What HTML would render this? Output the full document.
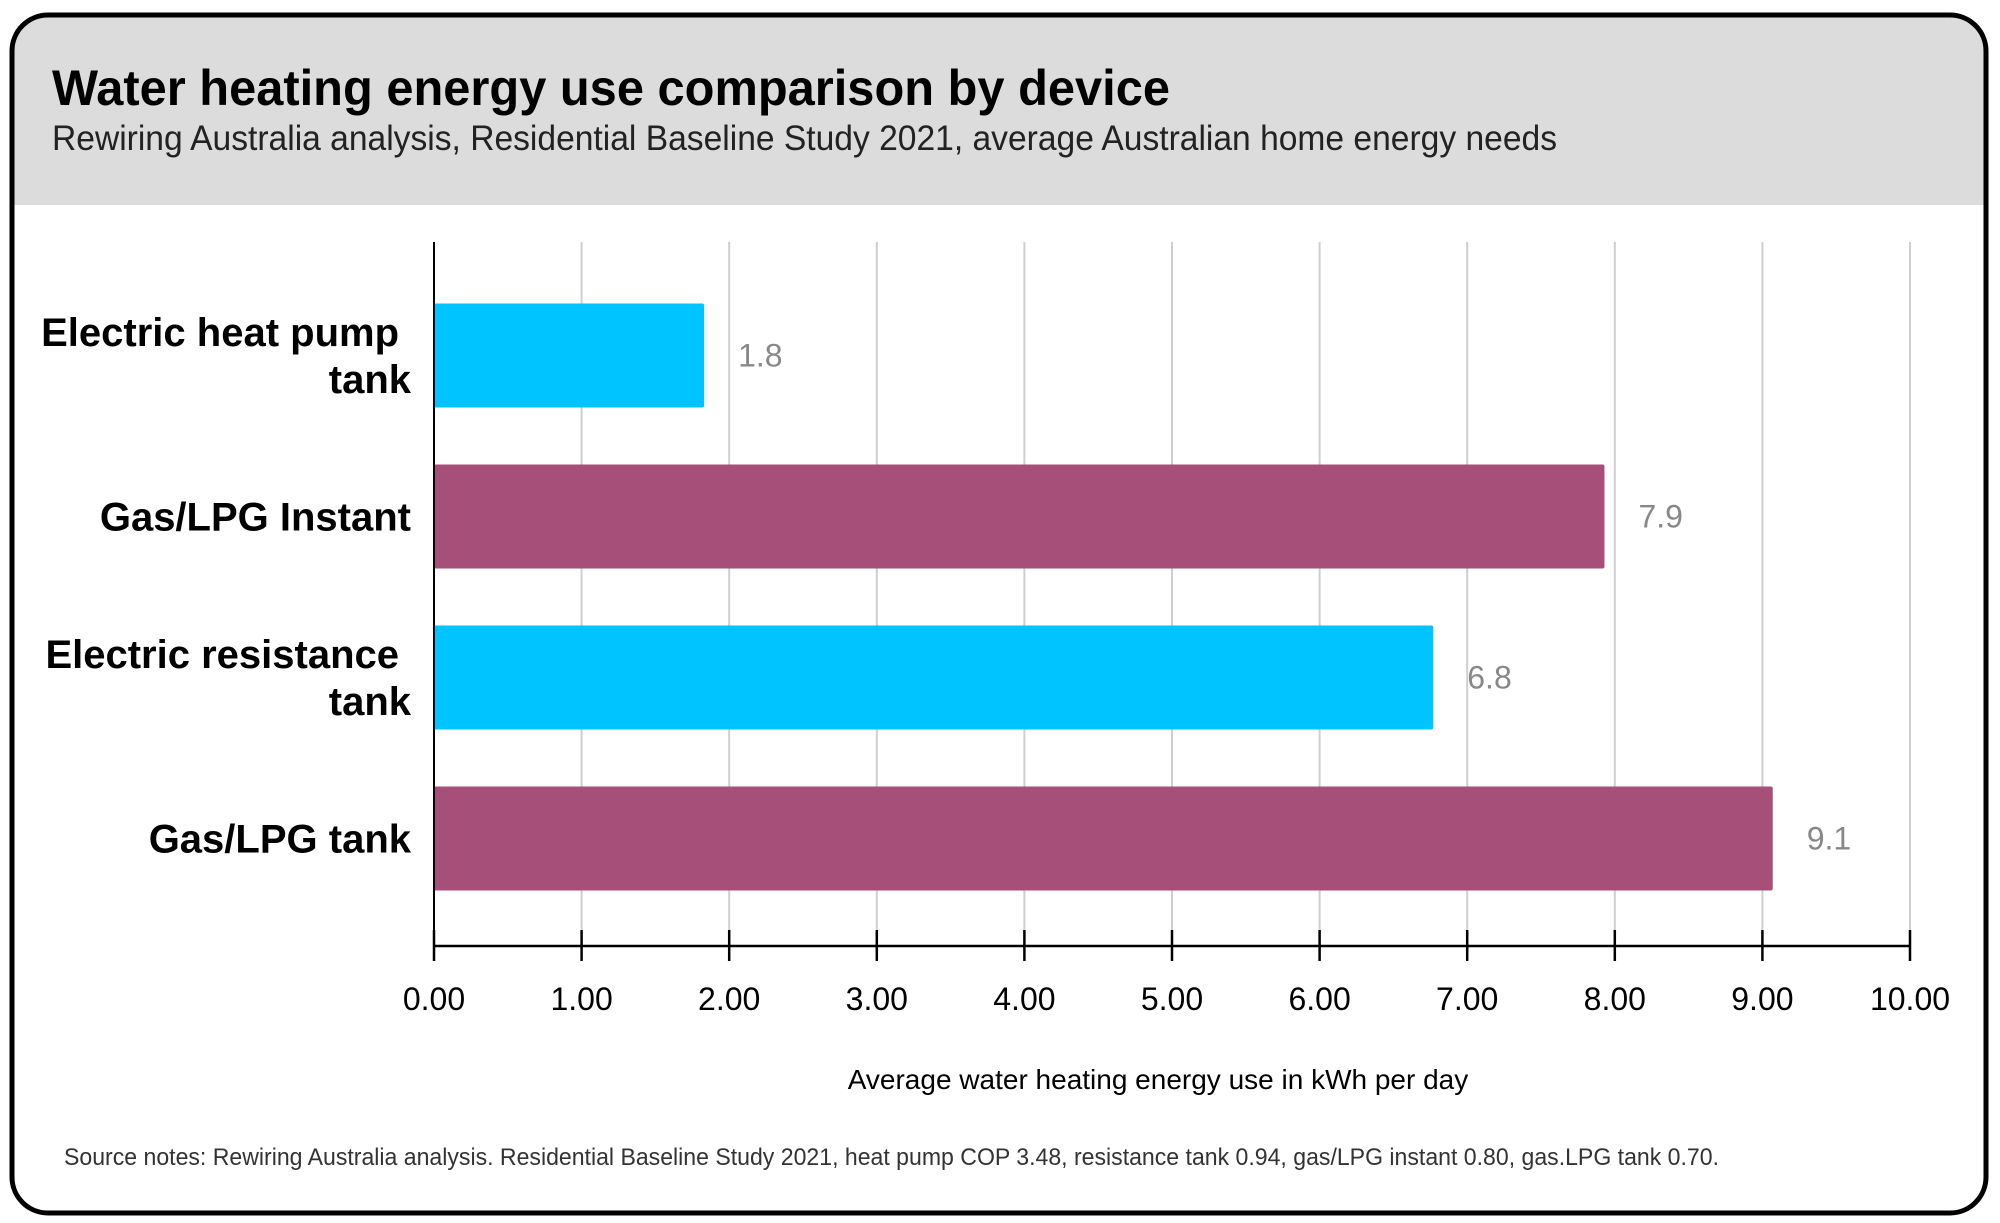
<!DOCTYPE html>
<html><head><meta charset="utf-8"><style>
html,body{margin:0;padding:0;background:#fff;}
svg{display:block;}
</style></head><body>
<svg id="chart" width="2000" height="1223" viewBox="0 0 2000 1223" xmlns="http://www.w3.org/2000/svg" font-family="Liberation Sans, sans-serif">
  <defs><clipPath id="frame"><rect x="12" y="15" width="1974" height="1198" rx="36"/></clipPath></defs>
  <rect x="12" y="15" width="1974" height="1198" rx="36" fill="#fff"/>
  <rect x="12" y="15" width="1974" height="190" fill="#dcdcdc" clip-path="url(#frame)"/>
  <rect x="12" y="15" width="1974" height="1198" rx="36" fill="none" stroke="#000" stroke-width="5"/>
  <text x="52" y="105" font-size="50" font-weight="bold" fill="#000" textLength="1118" lengthAdjust="spacingAndGlyphs">Water heating energy use comparison by device</text>
  <text x="52" y="150" font-size="35" fill="#222" textLength="1505" lengthAdjust="spacingAndGlyphs">Rewiring Australia analysis, Residential Baseline Study 2021, average Australian home energy needs</text>
  <g id="grid"></g>
  <g id="bars"></g>
  <g id="axis"></g>
  <text x="1158" y="1089" font-size="28" text-anchor="middle" fill="#000">Average water heating energy use in kWh per day</text>
  <text x="64" y="1165" font-size="24" fill="#333" textLength="1655" lengthAdjust="spacingAndGlyphs">Source notes: Rewiring Australia analysis. Residential Baseline Study 2021, heat pump COP 3.48, resistance tank 0.94, gas/LPG instant 0.80, gas.LPG tank 0.70.</text>
</svg>
<script>
const categories = [["Electric heat pump","tank"],["Gas/LPG Instant"],["Electric resistance","tank"],["Gas/LPG tank"]];
const values = [1.83, 7.93, 6.77, 9.07];
const valueLabels = ["1.8","7.9","6.8","9.1"];
const barColors = ["#00c4ff","#a64f78","#00c4ff","#a64f78"];
const tickValues = [0,1,2,3,4,5,6,7,8,9,10];
const tickLabels = ["0.00","1.00","2.00","3.00","4.00","5.00","6.00","7.00","8.00","9.00","10.00"];

const NS = "http://www.w3.org/2000/svg";
const X0 = 434, X1 = 1910, XMAX = 10;
const plotTop = 242, axisY = 946;
const bandTop = 275, bandStep = 161, barH = 104;
function xScale(v){ return X0 + (v / XMAX) * (X1 - X0); }
function yCenter(i){ return bandTop + bandStep * i + bandStep / 2; }
function mk(tag, attrs, parent){ const e = document.createElementNS(NS, tag); for (const k in attrs) e.setAttribute(k, attrs[k]); parent.appendChild(e); return e; }

const grid = document.getElementById('grid');
const bars = document.getElementById('bars');
const axis = document.getElementById('axis');

tickValues.forEach((t, i) => {
  const x = xScale(t);
  if (t > 0) {
    const g = mk('line', {x1:x, x2:x, y1:plotTop, y2:axisY, stroke:'#cfcfcf', 'stroke-width':2}, grid);
    
    
  }
  const tk = mk('line', {x1:x, x2:x, y1:axisY-16, y2:axisY+15, stroke:'#000', 'stroke-width':2.5}, axis);
  
  
  const lb = mk('text', {x:x, y:1010, 'font-size':32, 'text-anchor':'middle', fill:'#000'}, axis);
  lb.textContent = tickLabels[i];
  
  
});
const xl = mk('line', {x1:X0, x2:X1, y1:axisY, y2:axisY, stroke:'#000', 'stroke-width':2.5}, axis);


const yl = mk('line', {x1:X0, x2:X0, y1:plotTop, y2:axisY+15, stroke:'#000', 'stroke-width':2}, axis);



values.forEach((v, i) => {
  const cy = yCenter(i);
  const r = mk('rect', {x:X0, y:cy - barH/2, width:xScale(v) - X0, height:barH, fill:barColors[i], rx:2}, bars);
  
  
  const vl = mk('text', {x:xScale(v) + 34, y:cy + 11, 'font-size':32, fill:'#888'}, bars);
  vl.textContent = valueLabels[i];
  
  
  const lines = categories[i];
  const lh = 47;
  lines.forEach((ln, j) => {
    const y = cy + 14 + (j - (lines.length - 1) / 2) * lh;
    const t = mk('text', {x:411 - (lines.length > 1 && j === 0 ? 12 : 0), y:y, 'font-size':40, 'font-weight':'bold', 'text-anchor':'end', fill:'#000'}, bars);
    t.textContent = ln;
    
    
  });
});
</script>
</body></html>
